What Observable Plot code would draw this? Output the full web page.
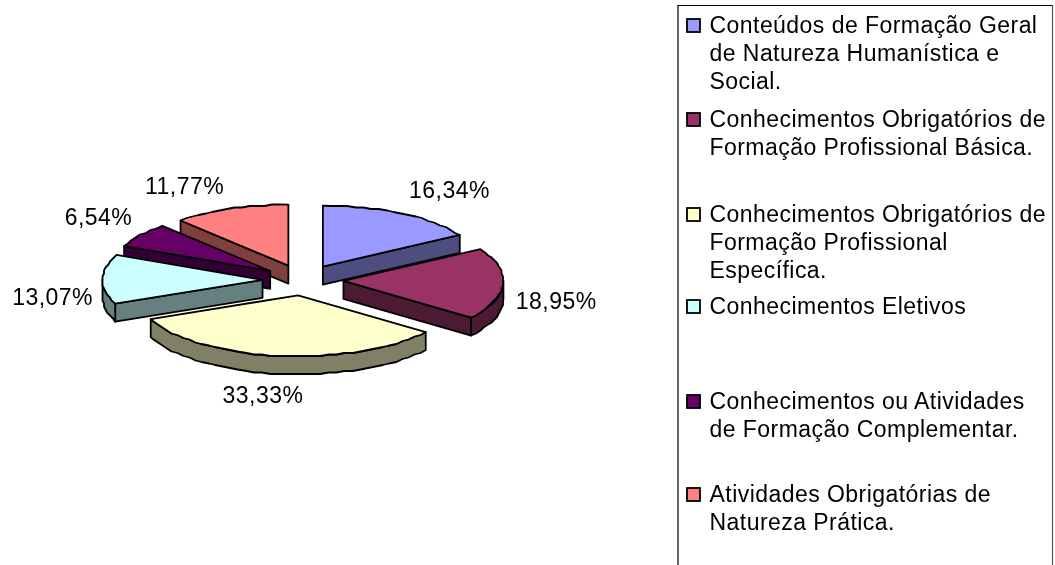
<!DOCTYPE html>
<html><head><meta charset="utf-8">
<script src="https://cdn.jsdelivr.net/npm/d3@7"></script>
<script src="https://cdn.jsdelivr.net/npm/@observablehq/plot@0.6"></script>
<style>html,body{margin:0;padding:0;background:#fff}svg{display:block}</style>
</head><body><div id="chart"></div>
<script>
const categories = [
  "Conteúdos de Formação Geral\nde Natureza Humanística e\nSocial.",
  "Conhecimentos Obrigatórios de\nFormação Profissional Básica.",
  "Conhecimentos Obrigatórios de\nFormação Profissional\nEspecífica.",
  "Conhecimentos Eletivos",
  "Conhecimentos ou Atividades\nde Formação Complementar.",
  "Atividades Obrigatórias de\nNatureza Prática."
];
const values = [16.34, 18.95, 33.33, 13.07, 6.54, 11.77];
const valueLabels = ["16,34%", "18,95%", "33,33%", "13,07%", "6,54%", "11,77%"];
const topColors = ["#9999FF", "#993366", "#FFFFCC", "#CCFFFF", "#660066", "#FF8080"];
const sideColors = ["#4D4D80", "#4D1A33", "#808066", "#668080", "#330033", "#804040"];

// layout of the tilted pie
const cx = 302.5, cy = 279.5, rx = 160, ry = 61, depth = 18, explode = 0.253;
const labelShift = [[48, -23], [53, 18], [-15.5, 40], [-50, 18], [-42, -18], [-46, -22]];
const legendY = [25, 119, 214, 306, 401, 494];
const legendX = 693.5, legendTextX = 709, lineStep = 28.2, fontSize = 23;

const rad = a => a * Math.PI / 180;
const total = d3.sum(values);
let acc = 0;
const slices = values.map((v, i) => {
  const a0 = acc / total * 360; acc += v; const a1 = acc / total * 360;
  const mid = rad((a0 + a1) / 2);
  return {i, a0, a1, ax: cx + explode * rx * Math.sin(mid), ay: cy - explode * ry * Math.cos(mid), mid};
});
const rim = (s, a) => [s.ax + rx * Math.sin(rad(a)), s.ay - ry * Math.cos(rad(a))];
const jag = ([x, y]) => [Math.round(x / 1.5) * 1.5, Math.round(y / 1.5) * 1.5];
const arc = (s, a, b) => {
  const n = Math.max(1, Math.ceil((b - a) / 3));
  return d3.range(n + 1).map(k => {
    const p = rim(s, a + (b - a) * k / n);
    return (k === 0 || k === n) ? p : jag(p);
  });
};
const polys = [];
const addPoly = (id, color, pts) => { [...pts, pts[0]].forEach(([x, y]) => polys.push({id, color, x, y})); };
slices.forEach(s => {
  const apex = [s.ax, s.ay];
  const low = ([x, y]) => [x, y + depth];
  const c = sideColors[s.i];
  if (s.a0 > 180) { // start wall faces the viewer
    const p = rim(s, s.a0);
    addPoly(`w0${s.i}`, c, [apex, p, low(p), low(apex)]);
  }
  if (s.a1 < 180) { // end wall faces the viewer
    const p = rim(s, s.a1);
    addPoly(`w1${s.i}`, c, [apex, p, low(p), low(apex)]);
  }
  const b0 = Math.max(s.a0, 90), b1 = Math.min(s.a1, 270);
  if (b1 > b0) {
    const r = arc(s, b0, b1);
    addPoly(`r${s.i}`, c, [...r, ...r.slice().reverse().map(low)]);
  }
  addPoly(`t${s.i}`, topColors[s.i], [apex, ...arc(s, s.a0, s.a1)]);
});
// painter's order: back slices first
const order = [5, 4, 3, 0, 1, 2];
const drawn = order.flatMap(i => polys.filter(p => +p.id.slice(-1) === i));

const labels = slices.map(s => {
  const m = (s.a0 + s.a1) / 2, [x, y] = rim(s, m);
  return {x: x + labelShift[s.i][0], y: y + labelShift[s.i][1], t: valueLabels[s.i]};
});
const legend = categories.map((c, i) => ({c, y: legendY[i], fill: topColors[i]}));

const font = {fontFamily: "'Liberation Sans', Arial, sans-serif", fontSize};
const plot = Plot.plot({
  width: 1055, height: 565, margin: 0,
  style: {letterSpacing: "0.45px", filter: "blur(0.35px)"},
  x: {domain: [0, 1055], range: [0, 1055], axis: null},
  y: {domain: [0, 565], range: [0, 565], axis: null},
  color: {type: "identity"},
  marks: [
    Plot.ruleY([5], {x1: 677.5, x2: 1052, stroke: "#000", strokeWidth: 1.2}),
    Plot.ruleX([677.5], {y1: 5, y2: 565, stroke: "#000", strokeWidth: 1.2}),
    Plot.ruleX([1052], {y1: 5, y2: 565, stroke: "#555", strokeWidth: 1.2}),
    Plot.line(drawn, {x: "x", y: "y", z: "id", fill: "color", stroke: "#000", strokeWidth: 1.8, strokeLinejoin: "round", curve: "linear"}),
    Plot.text(labels, {x: "x", y: "y", text: "t", fill: "#000", ...font}),
    Plot.rect(legend, {x1: () => legendX - 6.5, x2: () => legendX + 6.5, y1: d => d.y - 6, y2: d => d.y + 7, fill: "fill", stroke: "#000", strokeWidth: 1.8}),
    Plot.text(legend, {x: () => legendTextX, y: "y", text: "c", textAnchor: "start", lineHeight: lineStep / fontSize, fill: "#000", ...font, lineAnchor: "top", dy: -13})
  ]
});
document.getElementById("chart").append(plot);
</script></body></html>
